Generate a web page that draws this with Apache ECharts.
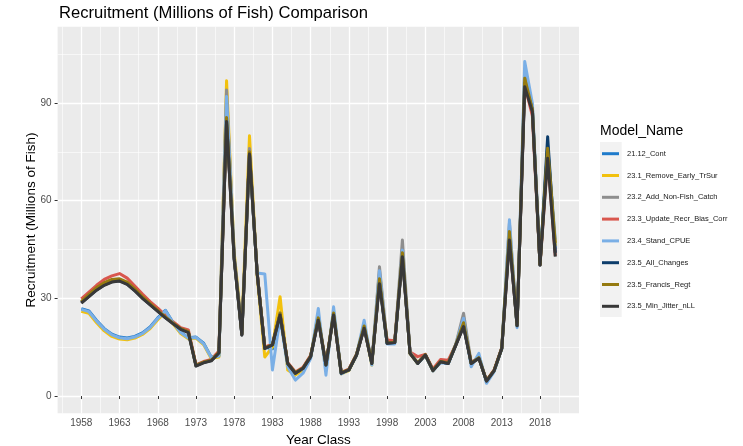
<!DOCTYPE html>
<html>
<head>
<meta charset="utf-8">
<script src="https://cdn.jsdelivr.net/npm/echarts@6/dist/echarts.min.js"></script>
<style>
  html, body { margin: 0; padding: 0; background: #ffffff; }
  #chart { width: 743px; height: 446px; }
</style>
</head>
<body>
<div id="chart"></div>
<script>
// Year classes 1958-2020
const years = [
  1958, 1959, 1960, 1961, 1962, 1963, 1964, 1965, 1966, 1967,
  1968, 1969, 1970, 1971, 1972, 1973, 1974, 1975, 1976, 1977,
  1978, 1979, 1980, 1981, 1982, 1983, 1984, 1985, 1986, 1987,
  1988, 1989, 1990, 1991, 1992, 1993, 1994, 1995, 1996, 1997,
  1998, 1999, 2000, 2001, 2002, 2003, 2004, 2005, 2006, 2007,
  2008, 2009, 2010, 2011, 2012, 2013, 2014, 2015, 2016, 2017,
  2018, 2019, 2020
];

const modelNames = [
  '21.12_Cont', '23.1_Remove_Early_TrSur', '23.2_Add_Non-Fish_Catch',
  '23.3_Update_Recr_Bias_Corr', '23.4_Stand_CPUE', '23.5_All_Changes',
  '23.5_Francis_Regt', '23.5_Min_Jitter_nLL'
];

// Recruitment estimates (millions of fish), one array per model run
const cont2112 = [
  26.8, 26.1, 23.2, 20.7, 19.0, 18.1, 17.8, 18.3, 19.4, 21.2,
  24.0, 26.3, 22.6, 19.6, 17.9, 18.1, 16.2, 11.9, 12.4, 90.0,
  42.5, 19.0, 75.0, 37.8, 15.0, 14.5, 25.0, 9.5, 6.5, 8.3,
  12.0, 24.0, 9.0, 25.5, 7.0, 8.0, 12.5, 21.5, 10.0, 35.5,
  16.2, 16.3, 43.5, 13.2, 10.0, 12.6, 7.8, 10.5, 10.0, 15.8,
  22.0, 10.0, 12.0, 4.5, 7.8, 14.6, 50.0, 21.5, 97.0, 88.0,
  40.5, 76.5, 45.0
];
const removeEarlyTrSur = [
  26.0, 25.4, 22.5, 20.0, 18.3, 17.5, 17.3, 17.8, 18.9, 20.7,
  23.4, 25.8, 22.2, 19.2, 17.6, 17.8, 15.8, 11.5, 12.0, 96.8,
  44.0, 21.0, 79.9, 37.0, 12.0, 15.0, 30.5, 8.0, 6.5, 8.0,
  12.0, 24.5, 8.5, 25.5, 6.8, 7.8, 12.5, 21.5, 9.5, 36.0,
  16.5, 16.5, 44.0, 13.0, 10.0, 12.5, 7.8, 10.5, 10.2, 15.8,
  22.5, 10.0, 12.0, 4.5, 7.8, 14.6, 50.5, 21.5, 97.5, 88.5,
  40.5, 76.0, 46.0
];
const addNonFishCatch = [
  28.8, 30.8, 32.8, 34.3, 35.3, 35.6, 34.6, 32.6, 30.3, 28.3,
  26.2, 24.2, 22.4, 20.7, 19.7, 9.4, 10.4, 11.0, 13.4, 94.0,
  43.0, 19.5, 76.0, 38.0, 14.8, 15.8, 25.5, 9.8, 7.0, 8.5,
  12.2, 25.0, 9.2, 26.0, 7.0, 8.2, 12.8, 22.0, 10.0, 39.7,
  16.5, 16.5, 47.9, 13.3, 10.2, 12.8, 7.9, 10.6, 10.2, 16.0,
  25.4, 10.2, 12.0, 4.6, 7.8, 14.8, 53.0, 21.8, 100.0, 89.0,
  40.5, 75.0, 44.0
];
const updateRecrBiasCorr = [
  29.8, 31.9, 34.0, 35.8, 36.9, 37.6, 36.2, 33.8, 31.3, 29.0,
  27.0, 24.8, 22.8, 21.0, 20.3, 9.6, 10.6, 11.2, 13.8, 84.5,
  42.5, 19.0, 74.0, 38.0, 15.0, 16.0, 25.0, 10.3, 7.4, 8.8,
  12.5, 23.5, 9.8, 25.0, 7.3, 8.3, 12.8, 21.0, 10.3, 35.0,
  17.2, 17.0, 43.0, 13.5, 12.1, 12.8, 8.3, 11.2, 11.0, 15.8,
  21.5, 10.3, 11.8, 4.8, 8.0, 14.8, 48.0, 21.8, 95.5, 86.0,
  40.3, 73.5, 43.0
];
const standCpue = [
  26.6, 25.9, 23.0, 20.5, 18.8, 17.9, 17.6, 18.1, 19.2, 21.0,
  23.8, 26.2, 22.5, 19.5, 17.8, 18.0, 16.0, 11.8, 12.3, 92.0,
  43.0, 19.5, 73.5, 37.8, 37.5, 8.0, 24.0, 9.0, 4.9, 7.0,
  11.5, 26.9, 6.4, 27.4, 6.8, 8.0, 12.5, 23.3, 9.5, 38.5,
  16.0, 16.0, 44.8, 13.5, 10.0, 12.5, 7.8, 10.2, 10.0, 16.0,
  23.9, 9.0, 13.1, 3.9, 7.5, 14.5, 54.1, 21.0, 102.7, 89.9,
  41.0, 77.0, 48.0
];
const allChanges = [
  28.6, 30.6, 32.6, 34.1, 35.1, 35.4, 34.4, 32.4, 30.1, 28.1,
  26.1, 24.1, 22.3, 20.6, 19.6, 9.3, 10.3, 10.9, 13.3, 84.5,
  42.0, 18.8, 74.5, 37.8, 14.6, 15.7, 25.0, 10.0, 7.0, 8.5,
  12.1, 23.5, 9.5, 25.0, 7.0, 8.0, 12.6, 21.0, 10.0, 35.0,
  16.2, 16.4, 43.0, 13.1, 10.0, 12.6, 7.8, 10.5, 10.0, 15.7,
  21.5, 10.0, 11.6, 4.6, 7.8, 14.6, 48.5, 21.6, 96.0, 88.0,
  40.2, 79.6, 44.0
];
const francisRegt = [
  29.0, 31.2, 33.3, 34.8, 35.8, 36.0, 35.0, 32.9, 30.5, 28.4,
  26.3, 24.3, 22.4, 20.7, 19.8, 9.4, 10.4, 11.0, 13.4, 85.5,
  42.5, 19.0, 75.0, 37.8, 14.8, 15.8, 25.5, 10.0, 7.2, 8.6,
  12.3, 24.0, 9.6, 25.5, 7.2, 8.1, 12.8, 21.5, 10.2, 36.0,
  16.4, 16.5, 44.0, 13.2, 10.2, 12.7, 7.9, 10.6, 10.2, 15.9,
  22.5, 10.1, 11.8, 4.7, 7.9, 14.7, 50.5, 21.8, 97.6, 88.0,
  40.3, 76.1, 47.0
];
const minJitterNll = [
  28.5, 30.5, 32.5, 34.0, 35.0, 35.3, 34.3, 32.3, 30.0, 28.0,
  26.0, 24.0, 22.2, 20.5, 19.5, 9.2, 10.2, 10.8, 13.2, 84.3,
  42.0, 18.7, 74.3, 37.7, 14.6, 15.7, 24.9, 10.0, 7.0, 8.5,
  12.1, 23.3, 9.5, 24.9, 7.0, 8.0, 12.6, 20.8, 10.0, 34.5,
  16.2, 16.4, 42.8, 13.1, 10.0, 12.6, 7.8, 10.5, 10.0, 15.7,
  21.3, 10.0, 11.6, 4.6, 7.8, 14.6, 47.9, 21.6, 95.0, 87.3,
  40.2, 73.0, 42.8
];

// Axis breaks
const xBreaks = [1958, 1963, 1968, 1973, 1978, 1983, 1988, 1993, 1998, 2003, 2008, 2013, 2018];
const xMinorBreaks = [1955.5, 1960.5, 1965.5, 1970.5, 1975.5, 1980.5, 1985.5, 1990.5, 1995.5, 2000.5, 2005.5, 2010.5, 2015.5, 2020.5];
const yBreaks = [0, 30, 60, 90];
const yMinorBreaks = [15, 45, 75, 105];

const seriesValues = [
  cont2112, removeEarlyTrSur, addNonFishCatch, updateRecrBiasCorr,
  standCpue, allChanges, francisRegt, minJitterNll
];
const seriesColors = [
  '#1F7BCB', '#F2C10E', '#8E8E8E', '#D9574E',
  '#7AAFE6', '#0D3D6B', '#957A10', '#383838'
];

const FONT = '"Liberation Sans", Arial, sans-serif';
const chart = echarts.init(document.getElementById('chart'), null, { renderer: 'canvas' });

const gridBox = { left: 57.6, right: 164, top: 26.7, bottom: 32.7 };

const series = modelNames.map((name, i) => ({
  name: name,
  type: 'line',
  xAxisIndex: 0,
  yAxisIndex: 0,
  showSymbol: false,
  symbol: 'none',
  smooth: false,
  animation: false,
  color: seriesColors[i],
  lineStyle: { width: 3, color: seriesColors[i], join: 'round', cap: 'butt' },
  emphasis: { disabled: true },
  data: years.map((y, k) => [y, seriesValues[i][k]])
}));

const plainNumber = v => String(v);

const option = {
  backgroundColor: '#ffffff',
  animation: false,
  textStyle: { fontFamily: FONT },
  title: [
    {
      text: 'Recruitment (Millions of Fish) Comparison',
      left: 59,
      top: 5,
      padding: 0,
      textStyle: { fontFamily: FONT, fontSize: 16.6, fontWeight: 'normal', color: '#000000' }
    },
    {
      text: 'Model_Name',
      left: 600,
      top: 124,
      padding: 0,
      textStyle: { fontFamily: FONT, fontSize: 14, fontWeight: 'normal', color: '#000000' }
    }
  ],
  graphic: [
    {
      type: 'rect',
      left: 600,
      top: 142,
      shape: { width: 21.7, height: 175 },
      style: { fill: '#F2F2F2' },
      z: -1
    }
  ],
  legend: {
    orient: 'vertical',
    left: 602,
    top: 148.7,
    padding: 0,
    itemWidth: 17,
    itemHeight: 3,
    itemGap: 11.8,
    icon: 'rect',
    data: modelNames,
    textStyle: { fontFamily: FONT, fontSize: 7.5, color: '#1A1A1A', lineHeight: 10, padding: [0, 0, 0, 3] },
    selectedMode: false
  },
  grid: {
    left: gridBox.left,
    right: gridBox.right,
    top: gridBox.top,
    bottom: gridBox.bottom,
    show: true,
    backgroundColor: '#EBEBEB',
    borderWidth: 0,
    containLabel: false,
    outerBoundsMode: 'none'
  },
  xAxis: [
    {
      type: 'value',
      min: 1954.9,
      max: 2023.1,
      name: 'Year Class',
      nameLocation: 'middle',
      nameGap: 15,
      nameTextStyle: { fontFamily: FONT, fontSize: 13.5, color: '#000000' },
      axisLine: { show: false },
      axisTick: { show: true, length: 3, customValues: xBreaks, lineStyle: { color: '#333333', width: 1 } },
      axisLabel: { show: true, customValues: xBreaks, formatter: plainNumber, margin: 5, fontFamily: FONT, fontSize: 10, color: '#4D4D4D' },
      splitLine: { show: true, lineStyle: { color: '#FFFFFF', width: 1.3 } },
      z: 1
    },
    {
      type: 'value',
      min: 1954.9,
      max: 2023.1,
      position: 'bottom',
      axisLine: { show: false },
      axisTick: { show: false, customValues: xMinorBreaks },
      axisLabel: { show: false, customValues: xMinorBreaks },
      splitLine: { show: true, lineStyle: { color: '#FFFFFF', width: 0.6 } }
    }
  ],
  yAxis: [
    {
      type: 'value',
      min: -5.3,
      max: 113.4,
      name: 'Recruitment (Millions of Fish)',
      nameLocation: 'middle',
      nameRotate: 90,
      nameGap: 19,
      nameMoveOverlap: false,
      nameTextStyle: { fontFamily: FONT, fontSize: 13.5, color: '#000000' },
      axisLine: { show: false },
      axisTick: { show: true, length: 3, customValues: yBreaks, lineStyle: { color: '#333333', width: 1 } },
      axisLabel: { show: true, customValues: yBreaks, margin: 6, fontFamily: FONT, fontSize: 10, color: '#4D4D4D' },
      splitLine: { show: true, lineStyle: { color: '#FFFFFF', width: 1.3 } }
    },
    {
      type: 'value',
      min: -5.3,
      max: 113.4,
      position: 'left',
      axisLine: { show: false },
      axisTick: { show: false, customValues: yMinorBreaks },
      axisLabel: { show: false, customValues: yMinorBreaks },
      splitLine: { show: true, lineStyle: { color: '#FFFFFF', width: 0.6 } }
    }
  ],
  series: series
};

chart.setOption(option);
</script>
</body>
</html>
